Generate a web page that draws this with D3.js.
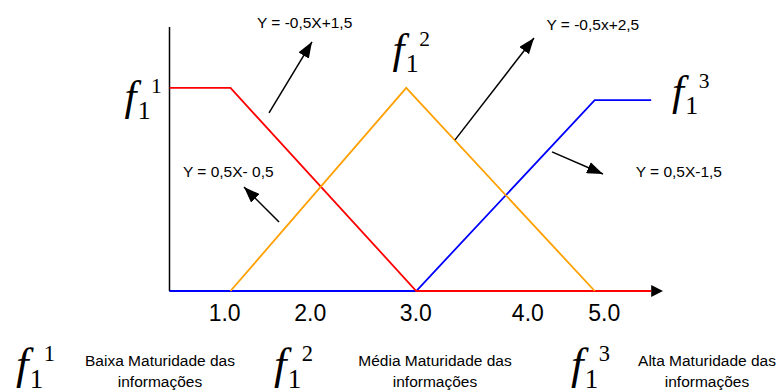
<!DOCTYPE html>
<html><head><meta charset="utf-8">
<script src="https://cdn.jsdelivr.net/npm/d3@7"></script>
<style>body{margin:0;background:#fff;overflow:hidden}</style>
</head><body>
<svg id="chart" width="778" height="392"></svg>
<script>
// ---- data ----
const redX = [0.33, 1, 3.04, 5.62];
const redY = [1, 1, 0, 0];
const orangeX = [1, 2.93, 5];
const orangeY = [0, 1, 0];
const blueX = [0.33, 3.04, 5, 5.62];
const blueY = [0, 0, 0.94, 0.94];
const tickLabels = ["1.0", "2.0", "3.0", "4.0", "5.0"];
const tickAt = [0.93, 1.87, 3.03, 4.26, 5.10];
const equations = ["Y = -0,5X+1,5", "Y = -0,5x+2,5", "Y = 0,5X- 0,5", "Y = 0,5X-1,5"];
const eqX = [1.29, 4.47, 0.478, 5.45];
const eqY = [1.293, 1.283, 0.562, 0.562];
const arrowFromX = [1.423, 3.466, 1.533, 4.531];
const arrowFromY = [0.877, 0.744, 0.340, 0.685];
const arrowToX = [1.895, 4.333, 1.148, 5.091];
const arrowToY = [1.227, 1.246, 0.512, 0.576];
const fSup = ["1", "2", "3"];
const fLabelX = [-0.165, 2.78, 5.85];
const fLabelY = [0.892, 1.123, 0.916];
const legendLine1 = ["Baixa Maturidade das", "Média Maturidade das", "Alta Maturidade das"];
const legendLine2 = ["informações", "informações", "informações"];
const seriesColors = ["#ff0000", "#ffa000", "#0000ff"];

// ---- scales ----
const svg = d3.select("#chart");
const x = d3.scaleLinear().domain([0.33, 5.75]).range([169.5, 663]);
const y = d3.scaleLinear().domain([0, 1.3]).range([291, 27]);

svg.append("defs").append("marker")
  .attr("id", "ah").attr("viewBox", "0 0 16 12").attr("refX", 16).attr("refY", 6)
  .attr("markerWidth", 16).attr("markerHeight", 12).attr("markerUnits", "userSpaceOnUse")
  .attr("orient", "auto")
  .append("path").attr("d", "M0,0 L16,6 L0,12 Z").attr("fill", "#000");

// axes lines
svg.append("line").attr("x1", x(0.33)).attr("x2", x(0.33)).attr("y1", y(1.3)).attr("y2", y(0))
  .attr("stroke", "#000").attr("stroke-width", 1.5);
svg.append("line").attr("x1", x(0.33)).attr("x2", x(5.6)).attr("y1", y(0)).attr("y2", y(0))
  .attr("stroke", "#000").attr("stroke-width", 1.5);
svg.append("path")
  .attr("d", `M${x(5.62)},${y(0)-6} L${x(5.75)},${y(0)} L${x(5.62)},${y(0)+6} Z`)
  .attr("fill", "#000");

// tick labels via axis
const axis = d3.axisBottom(x).tickValues(tickAt).tickSize(0).tickPadding(14)
  .tickFormat((d, i) => tickLabels[i]);
const gx = svg.append("g").attr("transform", `translate(0,${y(0)})`).call(axis);
gx.select(".domain").remove();
gx.selectAll("text").attr("font-family", "'Liberation Sans', Arial, sans-serif")
  .attr("font-size", 23).attr("fill", "#000");

// series
const line = d3.line().x(d => x(d[0])).y(d => y(d[1]));
const series = [
  d3.zip(blueX, blueY),
  d3.zip(redX, redY),
  d3.zip(orangeX, orangeY)
];
const cols = [seriesColors[2], seriesColors[0], seriesColors[1]];
series.forEach((s, i) => {
  svg.append("path").datum(s).attr("d", line).attr("fill", "none")
    .attr("stroke", cols[i]).attr("stroke-width", 1.8).attr("stroke-linejoin", "miter");
});

// arrows
arrowFromX.forEach((_, i) => {
  svg.append("line")
    .attr("x1", x(arrowFromX[i])).attr("y1", y(arrowFromY[i]))
    .attr("x2", x(arrowToX[i])).attr("y2", y(arrowToY[i]))
    .attr("stroke", "#000").attr("stroke-width", 1.5)
    .attr("marker-end", "url(#ah)");
});

// equation labels
equations.forEach((t, i) => {
  svg.append("text").attr("x", x(eqX[i])).attr("y", y(eqY[i]))
    .attr("font-family", "'Liberation Sans', Arial, sans-serif").attr("font-size", 15.5)
    .attr("fill", "#000").text(t);
});

// f labels
function fLabel(px, py, sup, size) {
  const t = svg.append("text").attr("x", px).attr("y", py)
    .attr("font-family", "'Liberation Serif', 'Times New Roman', serif").attr("fill", "#000");
  t.append("tspan").attr("font-style", "italic").attr("font-size", size).text("f");
  t.append("tspan").attr("font-size", size * 0.6).attr("dy", size * 0.21).attr("dx", size * 0.03).text("1");
  t.append("tspan").attr("font-size", size * 0.5).attr("dy", -size * 0.6).attr("dx", size * 0.01).text(sup);
}
fSup.forEach((s, i) => fLabel(x(fLabelX[i]), y(fLabelY[i]), s, 43));

// legend
const legendFX = [16, 274, 571];
const legendCX = [160, 435, 707];
fSup.forEach((s, i) => {
  fLabel(legendFX[i], 379, s, 45);
  const tt = svg.append("text").attr("text-anchor", "middle")
    .attr("font-family", "'Liberation Sans', Arial, sans-serif").attr("font-size", 15.5).attr("fill", "#000");
  tt.append("tspan").attr("x", legendCX[i]).attr("y", 366).text(legendLine1[i]);
  tt.append("tspan").attr("x", legendCX[i]).attr("y", 387).text(legendLine2[i]);
});
</script>
</body></html>
